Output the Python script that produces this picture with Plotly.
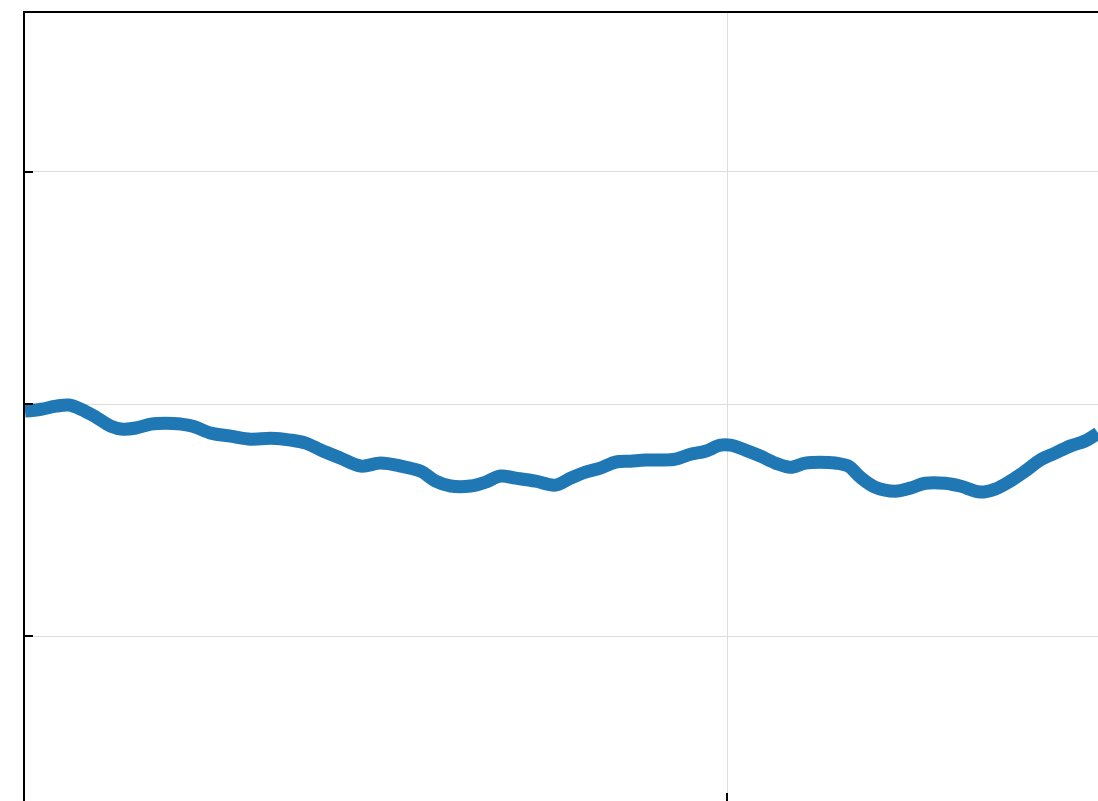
import plotly.graph_objects as go

x_vals = [0.000, 0.0228, 0.0441, 0.0626, 0.0797, 0.1010, 0.1223, 0.1394, 0.1579, 0.1792,
          0.2006, 0.2219, 0.2390, 0.2646, 0.2930, 0.3215, 0.3499, 0.3784, 0.3997, 0.4211,
          0.4495, 0.4780, 0.5064, 0.5349, 0.5633, 0.5846, 0.6060, 0.6344, 0.6558, 0.6771,
          0.6984, 0.7269, 0.7553, 0.7767, 0.7980, 0.8193, 0.8407, 0.8620, 0.8834, 0.9047,
          0.9260, 0.9474, 0.9687, 0.9900, 1.0043, 1.0256, 1.0469, 1.0683, 1.0896, 1.1110,
          1.1323, 1.1536, 1.1721, 1.1892, 1.2105, 1.2390, 1.2603, 1.2817, 1.3101, 1.3314,
          1.3599, 1.3812, 1.4026, 1.4239, 1.4452, 1.4666, 1.4879, 1.5092, 1.5277]
y_vals = [-0.030, -0.022, -0.009, -0.004, -0.022, -0.056, -0.095, -0.108, -0.103, -0.086,
          -0.082, -0.086, -0.095, -0.125, -0.138, -0.151, -0.147, -0.155, -0.168, -0.198,
          -0.233, -0.267, -0.254, -0.267, -0.289, -0.332, -0.353, -0.353, -0.336, -0.310,
          -0.319, -0.332, -0.349, -0.319, -0.293, -0.276, -0.250, -0.246, -0.241, -0.241,
          -0.237, -0.216, -0.203, -0.177, -0.177, -0.198, -0.224, -0.254, -0.272, -0.254,
          -0.250, -0.254, -0.267, -0.315, -0.358, -0.375, -0.362, -0.341, -0.341, -0.353,
          -0.379, -0.366, -0.332, -0.289, -0.241, -0.211, -0.181, -0.159, -0.125]
x_ticks = [0, 1]
y_ticks = [-1, 0, 1]

fig = go.Figure()
fig.add_trace(go.Scatter(x=x_vals, y=y_vals, mode="lines",
                         line=dict(color="#1f77b4", width=13, shape="spline"),
                         showlegend=False, hoverinfo="skip"))

fig.update_layout(
    width=1098, height=801,
    margin=dict(l=25, r=0, t=13, b=0),
    paper_bgcolor="white", plot_bgcolor="white",
    xaxis=dict(range=[0, 1.5277], tickvals=x_ticks, showticklabels=False,
               ticks="inside", ticklen=8, tickwidth=2, tickcolor="black",
               showgrid=True, gridcolor="#dcdcdc", gridwidth=1.2,
               showline=True, linecolor="black", linewidth=2, mirror=True,
               zeroline=False),
    yaxis=dict(range=[-1.71, 1.685], tickvals=y_ticks, showticklabels=False,
               ticks="inside", ticklen=8, tickwidth=2, tickcolor="black",
               showgrid=True, gridcolor="#dcdcdc", gridwidth=1.2,
               showline=True, linecolor="black", linewidth=2, mirror=False,
               zeroline=False),
)

fig.write_html("out.html", config={"displayModeBar": False},
               post_script="document.body.style.margin='0';document.body.style.overflow='hidden';")
